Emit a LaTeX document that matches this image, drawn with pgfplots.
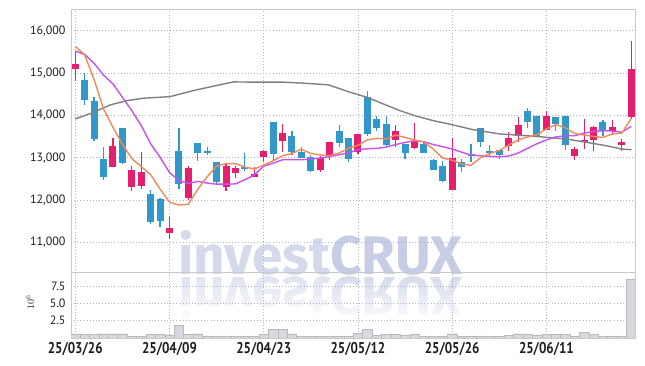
\documentclass[border=0pt]{standalone}
\usepackage{fontspec}
\setmainfont{PT Sans}
\newfontfamily\wmfont{Fira Sans}
\usepackage{graphicx}
\usepackage{pgfplots}
\pgfplotsset{compat=1.18}
\usepackage{pgfplotstable}
\usetikzlibrary{fadings}

\definecolor{cRed}{RGB}{230,30,110}
\definecolor{cBlue}{RGB}{50,152,202}
\definecolor{cOrange}{RGB}{240,138,88}
\definecolor{cMag}{RGB}{200,80,240}
\definecolor{cGray}{RGB}{128,128,128}
\definecolor{gridc}{RGB}{170,177,208}
\definecolor{bordc}{RGB}{200,200,205}
\definecolor{wmA}{RGB}{212,217,235}
\definecolor{wmB}{RGB}{198,205,229}
\definecolor{volf}{RGB}{216,216,222}
\definecolor{vold}{RGB}{185,185,192}
\definecolor{tickc}{RGB}{30,30,30}

\pgfplotstableread{
i o h l c
0 15100 15500 14800 15220
4 12784 13457 12768 13275
6 12310 12808 12216 12706
7 12334 13126 12256 12659
10 11213 11600 11088 11348
12 12043 12808 12002 12754
16 12296 12848 12216 12794
17 12642 12808 12517 12754
19 12547 12784 12533 12611
20 13021 13180 12889 13164
22 13400 13796 13140 13583
26 12706 13045 12652 12991
27 13069 13363 12943 13363
30 13140 13559 13085 13559
34 13424 13780 13244 13623
36 13227 13813 13204 13386
40 12239 13457 12239 12983
46 13282 13600 13164 13457
47 13519 13955 13377 13773
50 13661 14111 13661 13979
53 13045 13244 12950 13204
54 13377 13915 13204 13424
55 13424 13742 13149 13718
57 13637 13898 13535 13718
58 13306 13441 13164 13377
59 13955 15746 13915 15100
}\redtab

\pgfplotstableread{
i o h l c
1 14839 14998 14254 14372
2 14341 14429 13400 13441
3 12967 13244 12467 12547
5 13701 13701 12848 12879
8 12137 12232 11427 11481
9 12026 12059 11372 11505
11 13164 13701 12256 12374
13 13346 13346 12912 13116
14 13149 13244 13069 13109
15 12896 12896 12374 12415
18 12780 13110 12690 12740
21 13851 13851 12927 13085
23 13519 13637 13069 13126
24 13140 13259 12991 12991
25 13021 13069 12652 12690
28 13637 13773 13244 13346
29 13457 13457 12889 12967
31 14429 14571 13519 13559
32 13915 13993 13637 13694
33 13796 13993 13283 13299
35 13322 13322 12967 13109
37 13322 13386 13109 13109
38 12943 12960 12713 12713
39 12808 12927 12430 12453
41 12903 12967 12652 12784
42 13085 13322 12889 13045
43 13694 13694 13259 13377
44 13164 13299 13031 13109
45 13180 13180 12967 13069
48 14111 14168 13694 13837
49 13979 13979 13481 13519
51 13955 13955 13637 13796
52 13979 13979 13188 13306
56 13837 13898 13519 13637
}\bluetab

\pgfplotstableread{
i v
0 15630
1 15430
2 14850
3 14150
4 13720
5 13320
6 12980
7 12790
8 12600
9 12260
10 11950
11 11880
12 11900
13 12250
14 12550
15 12800
16 12860
17 12860
18 12780
19 12730
20 12825
21 12927
22 13045
23 13100
24 13200
25 13100
26 13065
27 13045
28 13110
29 13220
30 13290
31 13420
32 13457
33 13441
34 13535
35 13480
36 13417
37 13370
38 13200
39 12990
40 12940
41 12850
42 12820
43 13000
44 13100
45 13170
46 13300
47 13420
48 13490
49 13540
50 13680
51 13780
52 13710
53 13570
54 13535
55 13500
56 13480
57 13560
58 13580
59 13930
}\mafive

\pgfplotstableread{
i v
0 15519
1 15440
2 15230
3 14950
4 14744
5 14430
6 14111
7 13760
8 13330
9 13010
10 12650
11 12460
12 12391
13 12440
14 12400
15 12374
16 12374
17 12380
18 12480
19 12590
20 12800
21 12870
22 12950
23 12950
24 12950
25 12970
26 12990
27 13025
28 13070
29 13110
30 13190
31 13210
32 13220
33 13250
34 13310
35 13360
36 13400
37 13377
38 13310
39 13260
40 13204
41 13130
42 13062
43 13045
44 13030
45 13020
46 13040
47 13110
48 13220
49 13330
50 13420
51 13490
52 13519
53 13519
54 13580
55 13620
56 13637
57 13630
58 13600
59 13742
}\maten

\pgfplotstableread{
i v
0 13915
1.94 14073
3.71 14246
5.48 14348
7.24 14405
10.07 14443
12.54 14585
14.67 14690
16.79 14790
19.62 14784
22.09 14784
24.21 14761
26.86 14720
29.16 14547
30.93 14429
32.69 14270
34.46 14111
36.24 13979
38.0 13875
39.77 13790
42.24 13661
45.07 13559
47.9 13519
50.02 13481
52.14 13441
54.26 13362
56.38 13282
57.97 13204
59.03 13188
}\matwenty

\pgfplotstableread{
i v
0 0.58
1 0.5
2 0.5
3 0.62
4 0.62
5 0.62
6 0.29
7 0.29
8 0.5
9 0.5
10 0.35
11 1.78
12 0.5
13 0.62
14 0.29
15 0.29
16 0.29
17 0.29
18 0.29
19 0.29
20 0.5
21 1.2
22 1.2
23 0.62
24 0.29
25 0.2
26 0.2
27 0.3
28 0.29
29 0.29
30 0.67
31 1.2
32 0.43
33 0.5
34 0.5
35 0.35
36 0.5
37 0.29
38 0.2
39 0.2
40 0.62
41 0.2
42 0.29
43 0.29
44 0.2
45 0.2
46 0.39
47 0.62
48 0.5
49 0.39
50 0.5
51 0.5
52 0.5
53 0.29
54 0.77
55 0.5
56 0.29
57 0.29
58 0.29
59 8.53
}\voltab

\newcommand{\wmtext}{\resizebox{284pt}{44pt}{\wmfont\bfseries\textcolor{wmA}{invest}\textcolor{wmB}{CRUX}}}

\begin{document}
\begin{tikzpicture}
\path[use as bounding box] (0,0) rectangle (645pt,-366pt);
% watermark
\node[anchor=south west, inner sep=0pt] at (178pt,-276pt) {\wmtext};
\node[anchor=south west, inner sep=0pt, yscale=-1, opacity=0.75] at (178pt,-276pt) {\wmtext};
\fill[white, path fading=north] (170pt,-274pt) rectangle (470pt,-324pt);

\begin{axis}[
  at={(71pt,-9.3pt)}, anchor=north west,
  scale only axis, width=564pt, height=263.4pt,
  xmin=-0.45, xmax=59.4, ymin=10282, ymax=16506,
  xtick={0,10,...,50}, xticklabels={},
  ytick={11000,12000,...,16000},
  scaled y ticks=false,
  grid=major,
  grid style={gridc, line width=0.8pt, dash pattern=on 0.9pt off 2.2pt},
  axis line style={bordc, line width=0.7pt},
  major tick length=0pt,
  yticklabel style={font=\fontsize{12}{12}\selectfont, text=tickc, xshift=-2pt},
  /pgf/number format/.cd, fixed, precision=0, 1000 sep={,}, assume math mode=true
]
% wicks
\addplot[draw=none, mark=none, forget plot,
  error bars/.cd, y dir=both, y explicit, error mark=none,
  error bar style={draw=cRed, line width=1.2pt}]
  table[x=i, y expr={(\thisrow{h}+\thisrow{l})/2}, y error expr={(\thisrow{h}-\thisrow{l})/2}] {\redtab};
\addplot[draw=none, mark=none, forget plot,
  error bars/.cd, y dir=both, y explicit, error mark=none,
  error bar style={draw=cBlue, line width=1.2pt}]
  table[x=i, y expr={(\thisrow{h}+\thisrow{l})/2}, y error expr={(\thisrow{h}-\thisrow{l})/2}] {\bluetab};
% bodies
\addplot[draw=none, mark=none, forget plot,
  error bars/.cd, y dir=both, y explicit, error mark=none,
  error bar style={draw=cRed, line width=7pt}]
  table[x=i, y expr={(\thisrow{o}+\thisrow{c})/2}, y error expr={(\thisrow{c}-\thisrow{o})/2}] {\redtab};
\addplot[draw=none, mark=none, forget plot,
  error bars/.cd, y dir=both, y explicit, error mark=none,
  error bar style={draw=cBlue, line width=7pt}]
  table[x=i, y expr={(\thisrow{o}+\thisrow{c})/2}, y error expr={(\thisrow{o}-\thisrow{c})/2}] {\bluetab};
% moving averages
\addplot[cGray, line width=1.4pt, mark=none] table[x=i, y=v] {\matwenty};
\addplot[cMag, line width=1.4pt, mark=none] table[x=i, y=v] {\maten};
\addplot[cOrange, line width=1.4pt, mark=none] table[x=i, y=v] {\mafive};
\end{axis}

\begin{axis}[
  at={(71pt,-272.7pt)}, anchor=north west,
  scale only axis, width=564pt, height=65.3pt,
  xmin=-0.45, xmax=59.4, ymin=0, ymax=9.44,
  xtick={0,10,...,50},
  xticklabels={25/03/26,25/04/09,25/04/23,25/05/12,25/05/26,25/06/11},
  ytick={2.5,5,7.5}, yticklabels={2.5,5.0,7.5},
  grid=major,
  grid style={gridc, line width=0.8pt, dash pattern=on 0.9pt off 2.2pt},
  axis line style={bordc, line width=0.7pt},
  major tick length=0pt,
  yticklabel style={font=\fontsize{12}{12}\selectfont, text=tickc, xshift=-2pt},
  xticklabel style={font=\bfseries\fontsize{13}{13}\selectfont, yscale=1.2, text=tickc},
]
\addplot[ybar, bar width=9.42pt, fill=volf, draw=vold, line width=0.4pt] table[x=i, y=v] {\voltab};
\end{axis}

\node[rotate=90, font=\fontsize{10}{10}\selectfont, text=tickc] at (30pt,-302pt) {$10^6$};
\end{tikzpicture}
\end{document}
